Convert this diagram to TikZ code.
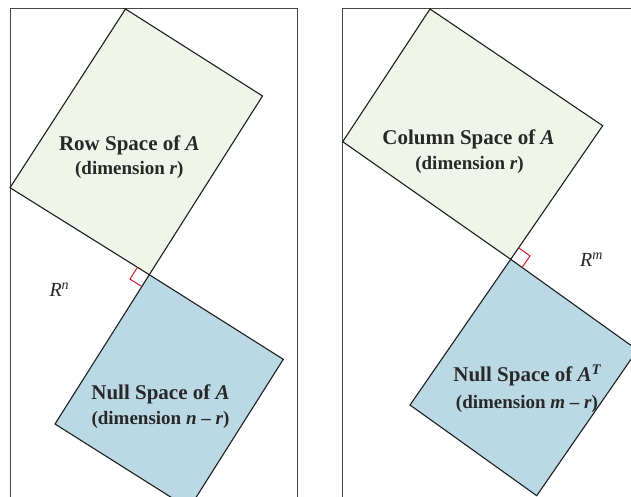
\documentclass[tikz,border=0pt]{standalone}
\usepackage{fontspec}
\setmainfont{Liberation Serif}
\usepackage{xcolor}
\definecolor{rowgreen}{RGB}{239,245,232}
\definecolor{nullblue}{RGB}{186,217,229}
\definecolor{framegray}{RGB}{70,70,70}
\definecolor{edgedark}{RGB}{30,30,30}
\definecolor{markred}{RGB}{200,30,40}
\definecolor{txt}{RGB}{40,40,40}
\usepackage{tikz}
\usetikzlibrary{calc}

\begin{document}
\begin{tikzpicture}[
  x=1pt,y=-1pt,
  frame/.style={draw=framegray,line width=1pt},
  spacebox/.style={draw=edgedark,line width=1.1pt,line join=miter},
  rowbox/.style={spacebox,fill=rowgreen},
  nullbox/.style={spacebox,fill=nullblue},
  rightmark/.style={draw=markred,line width=1pt},
  title/.style={anchor=base,inner sep=0pt,text=txt,font=\fontsize{21}{24}\selectfont\bfseries},
  subtitle/.style={anchor=base,inner sep=0pt,text=txt,font=\fontsize{19}{22}\selectfont\bfseries},
  spacelabel/.style={anchor=base west,inner sep=0pt,text=txt,font=\fontsize{20}{23}\selectfont\itshape}
]
  \useasboundingbox (0,0) rectangle (631,497);
  \clip (0,0) rectangle (631,497);

  % Frames
  \draw[frame] (10,515) -- (10,9) -- (297.7,9) -- (297.7,515);
  \draw[frame] (342.7,515) -- (342.7,9) -- (645,9);

  % Left: R^n
  \coordinate (lc) at (149.3,274.7);
  \coordinate (rowT) at (125.5,9);
  \coordinate (rowR) at (262.5,96);
  \coordinate (rowL) at (10,187.7);
  \coordinate (nulR) at (283.3,359.3);
  \coordinate (nulL) at (55,424);
  \draw[rowbox] (rowT) -- (rowR) -- (lc) -- (rowL) -- cycle;
  \draw[nullbox] (lc) -- (nulR) -- ($(nulR)+(nulL)-(lc)$) -- (nulL) -- cycle;

  \coordinate (lm1) at ($(lc)!14pt!(rowL)$);
  \coordinate (lm3) at ($(lc)!14pt!(nulL)$);
  \draw[rightmark] (lm1) -- ($(lm1)+(lm3)-(lc)$) -- (lm3);

  \node[title] (rowname) at (129.3,150.7) {Row Space of \textit{A}};
  \node[subtitle] (rowdim) at (129.3,174.3) {(dimension \textit{r})};
  \node[title] (nulname) at (160.5,399.3) {Null Space of \textit{A}};
  \node[subtitle] (nuldim) at (160.5,424.3) {(dimension \textit{n} -- \textit{r})};
  \node[spacelabel] (rn) at (49.3,296.7) {R\textsuperscript{n}};

  % Right: R^m
  \coordinate (rc) at (510.7,259.3);
  \coordinate (colT) at (430,9);
  \coordinate (colR) at (602.7,125.7);
  \coordinate (colL) at (342.7,141.7);
  \coordinate (lnuL) at (410,405);
  \coordinate (lnuB) at (536.7,495.7);
  \draw[rowbox] (colT) -- (colR) -- (rc) -- (colL) -- cycle;
  \draw[nullbox] (rc) -- ($(rc)+(lnuB)-(lnuL)$) -- (lnuB) -- (lnuL) -- cycle;

  \coordinate (rm1) at ($(rc)!14pt!(colR)$);
  \coordinate (rm3) at ($(rc)!14pt!($(rc)+(lnuB)-(lnuL)$)$);
  \draw[rightmark] (rm1) -- ($(rm1)+(rm3)-(rc)$) -- (rm3);

  \node[title] (colname) at (468.5,144.3) {Column Space of \textit{A}};
  \node[subtitle] (coldim) at (469.5,169.3) {(dimension \textit{r})};
  \node[title] (lnuname) at (527.5,381.7) {Null Space of \textit{A}\textsuperscript{\textit{T}}};
  \node[subtitle] (lnudim) at (527,408.3) {(dimension \textit{m} -- \textit{r})};
  \node[spacelabel] (rm) at (580,266.7) {R\textsuperscript{m}};
\end{tikzpicture}
\end{document}
